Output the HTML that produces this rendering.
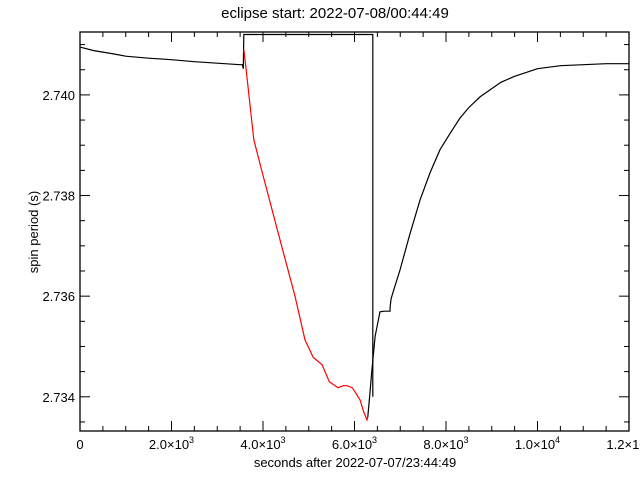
<!DOCTYPE html>
<html><head><meta charset="utf-8"><style>
body{margin:0;background:#fff;}
svg{display:block;font-family:"Liberation Sans",sans-serif;}
</style></head><body>
<svg id="c" width="640" height="480">
<rect width="640" height="480" fill="#fff"/>
<text x="335" y="18" text-anchor="middle" font-size="15">eclipse start: 2022-07-08/00:44:49</text>
<text x="465" y="467" text-anchor="middle" font-size="13" transform="translate(-110,0)">seconds after 2022-07-07/23:44:49</text>
<text transform="translate(38,232) rotate(-90)" text-anchor="middle" font-size="13">spin period (s)</text>
<g id="ax"></g><g id="marks"></g>
</svg>
<script>
const xTicks=[0,2000,4000,6000,8000,10000,12000];
const xTickLabels=["0","2.0×10|3","4.0×10|3","6.0×10|3","8.0×10|3","1.0×10|4","1.2×10|4"];
const yTicks=[2.734,2.736,2.738,2.740];
const yTickLabels=["2.734","2.736","2.738","2.740"];
const preT=[0,300,700,1000,1500,2000,2500,3000,3500,3550,3570,3580,6400,6400];
const preV=[2.74095,2.74088,2.74082,2.74077,2.74073,2.7407,2.74066,2.74063,2.7406,2.7406,2.74052,2.7412,2.7412,2.7340];
const redT=[3580,3600,3620,3800,4000,4372,4700,4918,5100,5290,5450,5640,5750,5836,5950,6010,6120,6200,6273,6290];
const redV=[2.7409,2.74075,2.7406,2.73911,2.7384,2.73712,2.7360,2.73513,2.73478,2.73464,2.7343,2.73418,2.73422,2.73422,2.73418,2.7341,2.73394,2.7337,2.73354,2.7336];
const postT=[6290,6330,6380,6450,6557,6650,6776,6780,6800,6850,6995,7200,7432,7650,7869,8100,8306,8500,8743,9200,9500,10000,10500,11000,11500,12000];
const postV=[2.7336,2.7340,2.73453,2.7352,2.73569,2.7357,2.7357,2.7358,2.73595,2.7361,2.73652,2.7372,2.73791,2.73845,2.73891,2.73925,2.73954,2.73975,2.73996,2.74025,2.74037,2.74052,2.74058,2.7406,2.74062,2.74062];
const X0=80,X1=629,Y0=32,Y1=431,TMAX=12000,VMIN=2.73332,VMAX=2.74125;
const sx=t=>X0+(t/TMAX)*(X1-X0);
const sy=v=>Y1-(v-VMIN)/(VMAX-VMIN)*(Y1-Y0);
const NS="http://www.w3.org/2000/svg";
const ax=document.getElementById('ax'),mk=document.getElementById('marks');
function mkEl(tag,attrs,parent){const e=document.createElementNS(NS,tag);for(const k in attrs)e.setAttribute(k,attrs[k]);parent.appendChild(e);return e;}
const frame=mkEl('rect',{x:X0,y:Y0,width:X1-X0,height:Y1-Y0,fill:'none',stroke:'#000','stroke-width':1.3},ax);


for(let t=0;t<=TMAX;t+=500){const major=t%2000===0;const L=major?10:5;const x=sx(t);
 const a=mkEl('line',{x1:x,x2:x,y1:Y1,y2:Y1-L,stroke:'#000'},ax);
 
 
 const b=mkEl('line',{x1:x,x2:x,y1:Y0,y2:Y0+L,stroke:'#000'},ax);
 
 }
xTicks.forEach((t,i)=>{const p=xTickLabels[i].split('|');const tx=mkEl('text',{x:sx(t),y:449,'text-anchor':'middle','font-size':13},ax);
 
 
 tx.textContent=p[0];if(p[1]){const s=mkEl('tspan',{dy:-6,'font-size':9},tx);s.textContent=p[1];}});
for(let v=2.7335;v<=2.7412;v+=0.0005){const vv=Math.round(v*1e4)/1e4;const major=Math.abs((vv*1000)%2)<1e-6;const L=major?10:5;const y=sy(vv);
 const a=mkEl('line',{x1:X0,x2:X0+L,y1:y,y2:y,stroke:'#000'},ax);
 
 
 const b=mkEl('line',{x1:X1,x2:X1-L,y1:y,y2:y,stroke:'#000'},ax);
 
 }
yTicks.forEach((v,i)=>{const tx=mkEl('text',{x:X0-5,y:sy(v)+5,'text-anchor':'end','font-size':13},ax);
 
 
 tx.textContent=yTickLabels[i];});
function line(T,V,col,name){const d=T.map((t,i)=>(i?'L':'M')+sx(t).toFixed(1)+','+sy(V[i]).toFixed(1)).join('');
 const p=mkEl('path',{d:d,fill:'none',stroke:col,'stroke-width':1.2},mk);
 
 }
line(preT,preV,'#000','pre-eclipse-series');
line(redT,redV,'#f00','eclipse-series');
line(postT,postV,'#000','post-eclipse-series');
</script>
</body></html>
